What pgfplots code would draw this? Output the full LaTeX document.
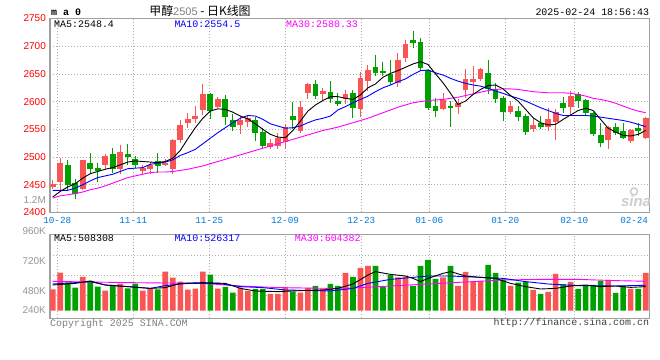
\documentclass[border=0pt]{standalone}
\usepackage{pgfplots}
\pgfplotsset{compat=1.18}
\usepackage{pgfplotstable}
\usepackage{fontspec}
\setmainfont{Liberation Sans}
\setmonofont{Liberation Mono}
\newfontfamily\cjk{Noto Sans CJK SC}
\definecolor{cred}{RGB}{250,85,85}
\definecolor{cgreen}{RGB}{0,160,0}
\definecolor{bordergray}{RGB}{160,160,160}
\definecolor{gridgray}{RGB}{175,175,175}
\definecolor{xblue}{RGB}{0,120,215}
\definecolor{mablue}{RGB}{0,0,255}
\definecolor{mamag}{RGB}{255,0,255}
\definecolor{lblgray}{RGB}{150,150,150}
\definecolor{logogray}{RGB}{205,205,205}

% i open high low close volume(K)
\pgfplotstableread{
i o h l c v
0 2446 2458 2442 2452 493
1 2455 2499 2440 2490 627
4 2442 2495 2440 2494 592
7 2485 2505 2478 2502 483
9 2478 2522 2469 2510 539
12 2474 2486 2469 2480 483
13 2479 2492 2470 2486 501
15 2485 2496 2483 2489 635
16 2478 2533 2469 2530 587
17 2530 2566 2526 2557 555
18 2562 2580 2553 2568 491
19 2568 2592 2562 2575 499
20 2585 2632 2575 2614 635
22 2590 2609 2588 2604 499
25 2558 2574 2541 2566 507
26 2564 2576 2555 2571 480
29 2519 2532 2514 2526 456
30 2520 2544 2514 2535 456
31 2527 2560 2514 2555 512
33 2547 2601 2544 2590 467
34 2616 2634 2604 2632 504
36 2613 2625 2603 2620 496
39 2604 2621 2595 2613 624
41 2586 2653 2573 2642 664
42 2637 2666 2619 2657 680
46 2633 2688 2627 2675 589
47 2679 2711 2672 2704 595
52 2587 2615 2585 2603 589
54 2590 2604 2577 2597 520
55 2621 2659 2607 2640 632
56 2636 2664 2616 2640 555
57 2640 2661 2637 2658 560
61 2581 2601 2578 2592 520
64 2550 2571 2545 2558 488
66 2555 2589 2547 2569 472
67 2564 2587 2531 2581 616
69 2590 2619 2574 2610 552
74 2531 2556 2514 2555 568
77 2529 2550 2525 2549 496
79 2535 2572 2533 2570 624
}\redK

\pgfplotstableread{
i o h l c v
2 2485 2494 2440 2449 547
3 2454 2460 2424 2434 507
5 2489 2507 2469 2478 560
6 2480 2490 2455 2474 515
8 2505 2517 2472 2478 528
10 2506 2523 2486 2500 501
11 2496 2502 2481 2486 539
14 2493 2507 2472 2483 493
21 2614 2616 2569 2583 611
23 2604 2612 2558 2572 512
24 2566 2577 2547 2555 467
27 2567 2573 2529 2544 496
28 2546 2553 2517 2520 496
32 2574 2599 2550 2567 475
35 2631 2639 2604 2610 520
37 2618 2638 2597 2604 536
38 2601 2615 2592 2596 520
40 2616 2621 2571 2588 592
43 2662 2684 2647 2652 680
44 2655 2672 2647 2652 512
45 2650 2675 2630 2636 608
48 2711 2727 2697 2706 520
49 2708 2714 2655 2660 680
50 2657 2658 2585 2589 728
51 2593 2606 2572 2584 576
53 2592 2601 2555 2589 680
58 2651 2676 2613 2623 688
59 2622 2634 2598 2604 624
60 2607 2611 2565 2581 573
62 2583 2592 2565 2572 547
63 2574 2577 2540 2546 555
65 2561 2574 2550 2555 456
68 2597 2608 2580 2588 533
70 2613 2618 2589 2601 496
71 2603 2604 2574 2580 525
72 2579 2581 2538 2541 528
73 2540 2562 2518 2525 560
75 2555 2562 2540 2544 464
76 2547 2562 2532 2534 523
78 2552 2562 2538 2547 496
}\greenK

% price moving averages
\pgfplotstableread{
i ma5 ma10 ma30
0 2428 2440 2426
1 2438 2440 2430
2 2446 2440 2432
3 2452 2444 2434
4 2462 2450 2437
5 2470 2457 2441
6 2474 2463 2444
7 2478 2466 2448
8 2481 2469 2453
9 2486 2474 2458
10 2491 2479 2463
11 2493 2480 2466
12 2492 2481 2469
13 2491 2487 2472
14 2490 2489 2473
15 2492 2491 2473
16 2498 2495 2474
17 2512 2503 2476
18 2533 2508 2478
19 2553 2514 2481
20 2570 2524 2484
21 2583 2534 2488
22 2587 2544 2492
23 2586 2553 2496
24 2581 2562 2500
25 2574 2570 2504
26 2569 2575 2508
27 2560 2574 2512
28 2550 2568 2516
29 2541 2560 2520
30 2536 2556 2524
31 2535 2552 2528
32 2548 2553 2532
33 2565 2556 2536
34 2583 2562 2540
35 2594 2567 2544
36 2602 2570 2548
37 2609 2574 2551
38 2609 2585 2554
39 2606 2591 2558
40 2604 2598 2562
41 2612 2604 2566
42 2625 2610 2570
43 2632 2618 2575
44 2644 2625 2580
45 2651 2630 2585
46 2656 2636 2590
47 2662 2641 2594
48 2668 2649 2598
49 2672 2656 2600
50 2667 2657 2602
51 2650 2652 2603
52 2634 2648 2604
53 2615 2642 2606
54 2595 2637 2608
55 2601 2633 2611
56 2613 2630 2614
57 2622 2628 2617
58 2629 2624 2620
59 2630 2619 2622
60 2623 2615 2623
61 2611 2610 2623
62 2601 2606 2622
63 2586 2601 2620
64 2571 2595 2618
65 2562 2589 2617
66 2558 2584 2616
67 2559 2579 2616
68 2568 2575 2616
69 2576 2575 2615
70 2584 2575 2613
71 2588 2575 2610
72 2584 2574 2606
73 2568 2572 2604
74 2552 2570 2601
75 2545 2568 2597
76 2539 2566 2592
77 2538 2563 2587
78 2541 2559 2583
79 2548 2555 2580
}\priceMA

% volume moving averages (K)
\pgfplotstableread{
i v
0 528
3 541
5 560
7 528
10 515
13 501
15 507
17 541
20 547
23 541
25 501
27 480
30 475
33 483
36 488
38 501
40 536
42 608
43 635
45 613
47 600
48 581
49 555
50 581
52 621
53 635
55 600
57 589
59 581
61 541
63 515
65 496
67 501
69 520
71 528
73 515
75 520
77 509
79 515
}\volMAfive

\pgfplotstableread{
i v
0 536
3 547
5 555
7 528
10 515
13 501
15 523
18 541
22 541
25 515
28 507
31 488
35 483
37 480
40 501
42 541
45 573
50 600
53 600
57 589
60 581
63 555
66 536
70 523
75 520
79 526
}\volMAten

\pgfplotstableread{
i v
0 557
10 547
20 541
25 520
30 507
37 501
40 504
45 520
50 536
55 552
60 568
65 573
70 573
75 563
79 558
}\volMAthirty

\pgfplotsset{
  sinagrid/.style={
    grid style={gridgray, line width=0.8bp, dash pattern=on 1bp off 2bp},
    axis line style={bordergray, line width=1.1bp},
    major tick length=0pt,
  },
  candle/.style 2 args={forget plot, draw=none, mark=none,
    error bars/.cd, y dir=both, y explicit, error mark=none,
    error bar style={draw=#1, line width=#2}},
}

\begin{document}
\begin{tikzpicture}
\useasboundingbox (0,0) rectangle (660bp,360bp);
\fill[white] (0,0) rectangle (660bp,360bp);

% ---------------- price panel ----------------
\begin{axis}[
  sinagrid,
  at={(50bp,147.5bp)}, anchor=south west,
  scale only axis, width=599.3bp, height=194bp,
  xmin=-0.36, xmax=79.48, ymin=2400, ymax=2750,
  xtick={0.61,10.74,20.86,30.95,41.11,50.17,60.3,69.49},
  xticklabels={10-28,11-11,11-25,12-09,12-23,01-06,01-20,02-10},
  extra x ticks={77.46}, extra x tick labels={02-24},
  extra x tick style={xmajorgrids=false},
  xticklabel style={font=\ttfamily\fontsize{9.3}{10}\selectfont, text=xblue, inner sep=0pt, yshift=-5bp},
  ytick={2400,2450,2500,2550,2600,2650,2700,2750},
  yticklabels={2400,2450,2500,2550,2600,2650,2700,2750},
  yticklabel style={font=\fontsize{10}{12}\selectfont, text=red, inner sep=0pt, xshift=-4bp},
  xmajorgrids, ymajorgrids,
]
% wicks
\addplot[candle={cred}{1bp}]
  table[x=i, y expr=(\thisrow{h}+\thisrow{l})/2, y error expr=(\thisrow{h}-\thisrow{l})/2] {\redK};
\addplot[candle={cgreen}{1bp}]
  table[x=i, y expr=(\thisrow{h}+\thisrow{l})/2, y error expr=(\thisrow{h}-\thisrow{l})/2] {\greenK};
% bodies
\addplot[candle={cred}{5.8bp}]
  table[x=i, y expr=(\thisrow{o}+\thisrow{c})/2, y error expr=abs(\thisrow{c}-\thisrow{o})/2] {\redK};
\addplot[candle={cgreen}{5.8bp}]
  table[x=i, y expr=(\thisrow{o}+\thisrow{c})/2, y error expr=abs(\thisrow{c}-\thisrow{o})/2] {\greenK};
% moving averages
\addplot[mamag, line width=0.9bp, mark=none] table[x=i, y=ma30] {\priceMA};
\addplot[mablue, line width=0.9bp, mark=none] table[x=i, y=ma10] {\priceMA};
\addplot[black, line width=0.9bp, mark=none] table[x=i, y=ma5] {\priceMA};
\end{axis}

% ---------------- volume panel ----------------
\begin{axis}[
  sinagrid,
  at={(50bp,41.7bp)}, anchor=south west,
  scale only axis, width=599.3bp, height=83.6bp,
  xmin=-0.36, xmax=79.48, ymin=-60.4, ymax=608.4,
  xtick={0.61,10.74,20.86,30.95,41.11,50.17,60.3,69.49},
  xticklabels={},
  ytick={126,286,446}, yticklabels={},
  xmajorgrids, ymajorgrids,
]
\addplot[forget plot, ybar, bar width=5.6bp, bar shift=0pt, fill=cred, draw=none]
  table[x=i, y expr=\thisrow{v}-322] {\redK};
\addplot[forget plot, ybar, bar width=5.6bp, bar shift=0pt, fill=cgreen, draw=none]
  table[x=i, y expr=\thisrow{v}-322] {\greenK};
\addplot[mamag, line width=0.9bp, mark=none] table[x=i, y expr=\thisrow{v}-322] {\volMAthirty};
\addplot[mablue, line width=0.9bp, mark=none] table[x=i, y expr=\thisrow{v}-322] {\volMAten};
\addplot[black, line width=0.9bp, mark=none] table[x=i, y expr=\thisrow{v}-322] {\volMAfive};
\end{axis}

% ---------------- texts ----------------
\node[anchor=west, inner sep=0pt, font=\ttfamily\bfseries\fontsize{10}{12}\selectfont] at (51bp,348bp) {m a 0};
\node[anchor=center, inner sep=0pt] at (200bp,349bp)
  {{\cjk\fontsize{12}{14}\selectfont 甲醇}{\fontsize{11}{13}\selectfont\color{gray}2505}{\cjk\fontsize{12}{14}\selectfont{} - 日K线图}};
\node[anchor=east, inner sep=0pt, font=\ttfamily\fontsize{10}{12}\selectfont] at (649.3bp,348bp) {2025-02-24 18:56:43};

\node[anchor=west, inner sep=0pt, font=\ttfamily\fontsize{10}{12}\selectfont] at (54bp,336bp) {MA5:2548.4};
\node[anchor=west, inner sep=0pt, font=\ttfamily\fontsize{10}{12}\selectfont, text=mablue] at (174.3bp,336bp) {MA10:2554.5};
\node[anchor=west, inner sep=0pt, font=\ttfamily\fontsize{10}{12}\selectfont, text=mamag] at (286bp,336bp) {MA30:2580.33};

\node[anchor=east, inner sep=0pt, font=\fontsize{10}{12}\selectfont, text=lblgray] at (46bp,160bp) {1.2M};

\node[anchor=west, inner sep=0pt, font=\ttfamily\fontsize{10}{12}\selectfont] at (54bp,122bp) {MA5:508308};
\node[anchor=west, inner sep=0pt, font=\ttfamily\fontsize{10}{12}\selectfont, text=mablue] at (174.3bp,122bp) {MA10:526317};
\node[anchor=west, inner sep=0pt, font=\ttfamily\fontsize{10}{12}\selectfont, text=mamag] at (294.7bp,122bp) {MA30:604382};

\node[anchor=east, inner sep=0pt, font=\fontsize{10}{12}\selectfont, text=lblgray] at (46bp,129bp) {960K};
\node[anchor=east, inner sep=0pt, font=\fontsize{10}{12}\selectfont, text=lblgray] at (46bp,99bp) {720K};
\node[anchor=east, inner sep=0pt, font=\fontsize{10}{12}\selectfont, text=lblgray] at (46bp,69bp) {480K};
\node[anchor=east, inner sep=0pt, font=\fontsize{10}{12}\selectfont, text=lblgray] at (46bp,50bp) {240K};

\node[anchor=west, inner sep=0pt, font=\ttfamily\fontsize{10}{12}\selectfont, text=gray] at (50bp,36.5bp) {Copyright 2025 SINA.COM};
\node[anchor=east, inner sep=0pt, font=\ttfamily\fontsize{10}{12}\selectfont, text=darkgray] at (649.3bp,36.7bp) {http://finance.sina.com.cn};

% watermark
\node[inner sep=0pt, font=\bfseries\itshape\fontsize{15}{15}\selectfont, text=logogray] at (636bp,159bp) {sina};
\draw[logogray, line width=1.5bp] (634bp,168.5bp) circle (3.5bp);
\end{tikzpicture}
\end{document}
